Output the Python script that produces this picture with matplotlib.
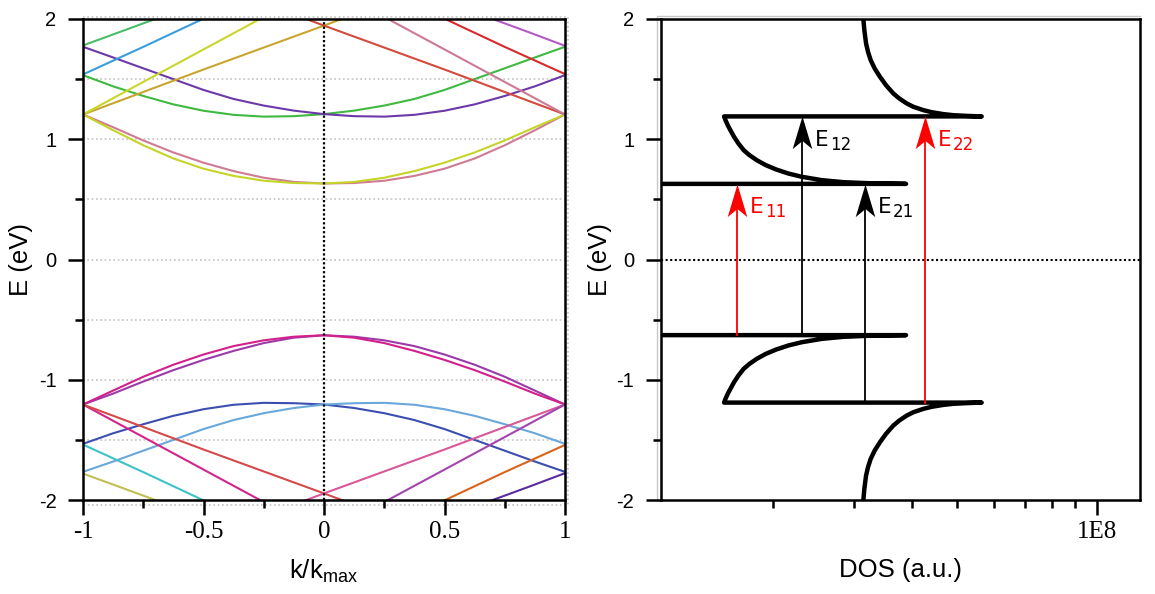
import matplotlib
matplotlib.use("Agg")
import matplotlib.pyplot as plt
from matplotlib.path import Path
from matplotlib.ticker import NullFormatter

plt.rcParams['font.family'] = ['Liberation Sans', 'DejaVu Sans']
plt.rcParams['mathtext.default'] = 'regular'
SERIF = 'Liberation Serif'

# ---------------- band structure (left panel) ----------------
k_grid = [-1.0, -0.875, -0.75, -0.625, -0.5, -0.375, -0.25, -0.125, 0.0,
          0.125, 0.25, 0.375, 0.5, 0.625, 0.75, 0.875, 1.0]

# first conduction pair (eV)
c1_pink = [1.206, 1.100, 0.990, 0.890, 0.805, 0.735, 0.680, 0.645, 0.632,
           0.636, 0.655, 0.695, 0.755, 0.840, 0.950, 1.075, 1.206]
c1_yellow = [1.206, 1.075, 0.950, 0.840, 0.755, 0.695, 0.655, 0.636, 0.632,
             0.645, 0.680, 0.735, 0.805, 0.890, 0.990, 1.100, 1.206]
# second conduction pair
c2_green = [1.533, 1.440, 1.360, 1.290, 1.237, 1.203, 1.188, 1.192, 1.209,
            1.238, 1.280, 1.335, 1.410, 1.500, 1.590, 1.680, 1.769]
c2_purple = [1.769, 1.680, 1.590, 1.500, 1.410, 1.335, 1.280, 1.238, 1.209,
             1.192, 1.188, 1.203, 1.237, 1.290, 1.360, 1.440, 1.533]
# first valence pair
v1_magenta = [-1.206, -1.090, -0.975, -0.875, -0.790, -0.720, -0.672, -0.642, -0.630,
              -0.650, -0.695, -0.760, -0.835, -0.920, -1.015, -1.115, -1.206]
v1_purple = [-1.206, -1.115, -1.015, -0.920, -0.835, -0.760, -0.695, -0.650, -0.630,
             -0.642, -0.672, -0.720, -0.790, -0.875, -0.975, -1.090, -1.206]
# second valence pair
v2_darkblue = [-1.533, -1.445, -1.370, -1.300, -1.245, -1.208, -1.192, -1.195, -1.206,
               -1.235, -1.278, -1.335, -1.410, -1.500, -1.590, -1.680, -1.766]
v2_lightblue = [-1.766, -1.680, -1.590, -1.500, -1.410, -1.335, -1.278, -1.235, -1.206,
                -1.195, -1.192, -1.208, -1.245, -1.300, -1.370, -1.445, -1.533]

# steep bands leaving the window (k, E)
olive_k, olive_e = [-1.0, -0.5, 0.0, 0.1], [1.206, 1.580, 1.945, 2.02]
red_k, red_e = [-0.1, 0.0, 0.5, 1.0], [2.02, 1.945, 1.580, 1.206]
yelup_k, yelup_e = [-1.0, -0.5, -0.25], [1.206, 1.747, 2.017]
mauve_k, mauve_e = [0.25, 0.5, 1.0], [2.017, 1.747, 1.206]
blue_k, blue_e = [-1.0, -0.75, -0.45], [1.539, 1.768, 2.05]
bred_k, bred_e = [0.45, 0.75, 1.0], [2.05, 1.768, 1.542]
gtop_k, gtop_e = [-1.0, -0.85, -0.65], [1.780, 1.890, 2.037]
violet_k, violet_e = [0.65, 0.85, 1.0], [2.037, 1.890, 1.777]

cyan_k, cyan_e = [-1.0, -0.75, -0.45], [-1.539, -1.768, -2.05]
vol_k, vol_e = [-1.0, -0.85, -0.65], [-1.780, -1.890, -2.037]
vmag_k, vmag_e = [-1.0, -0.5, -0.25], [-1.206, -1.747, -2.017]
vred_k, vred_e = [-1.0, -0.5, 0.0, 0.1], [-1.206, -1.580, -1.945, -2.02]
vpink_k, vpink_e = [-0.1, 0.0, 0.5, 1.0], [-2.02, -1.945, -1.580, -1.206]
vpur_k, vpur_e = [0.25, 0.5, 1.0], [-2.017, -1.747, -1.206]
orange_k, orange_e = [0.45, 0.75, 1.0], [-2.05, -1.768, -1.542]
indigo_k, indigo_e = [0.65, 0.85, 1.0], [-2.037, -1.890, -1.777]

k_ticks = [-1, -0.5, 0, 0.5, 1]
k_tick_labels = ['-1', '-0.5', '0', '0.5', '1']
k_minor = [-0.75, -0.25, 0.25, 0.75]
e_ticks = [-2, -1, 0, 1, 2]
e_tick_labels = ['-2', '-1', '0', '1', '2']
e_minor = [-1.5, -0.5, 0.5, 1.5]

# ---------------- density of states (right panel) ----------------
# second valence singularity, from the bottom of the window up to its edge
dos_v2_e = [-1.999, -1.908, -1.797, -1.727, -1.658, -1.589, -1.519, -1.450, -1.381,
            -1.339, -1.298, -1.270, -1.242, -1.225, -1.209, -1.200, -1.195, -1.190]
dos_v2 = [3.137e7, 3.152e7, 3.179e7, 3.210e7, 3.253e7, 3.318e7, 3.407e7, 3.510e7, 3.640e7,
          3.750e7, 3.890e7, 4.021e7, 4.226e7, 4.405e7, 4.668e7, 4.906e7, 5.198e7, 5.647e7]
# first valence singularity, from the second edge up to the gap
dos_v1_e = [-1.190, -1.159, -1.117, -1.076, -1.020, -0.965, -0.909, -0.868, -0.826,
            -0.785, -0.749, -0.715, -0.688, -0.660, -0.643, -0.635, -0.629]
dos_v1 = [1.570e7, 1.581e7, 1.599e7, 1.620e7, 1.650e7, 1.686e7, 1.731e7, 1.781e7, 1.847e7,
          1.931e7, 2.033e7, 2.161e7, 2.309e7, 2.550e7, 2.841e7, 3.190e7, 3.878e7]
# inside the gap the DOS vanishes (placed off the left of the axis)
dos_gap_e = [-0.629, 0.629]
dos_gap = [1.0e6, 1.0e6]
# first conduction singularity
dos_c1_e = [0.629, 0.635, 0.643, 0.660, 0.688, 0.715, 0.749, 0.785, 0.826,
            0.868, 0.909, 0.965, 1.020, 1.076, 1.117, 1.159, 1.190]
dos_c1 = [3.878e7, 3.190e7, 2.841e7, 2.550e7, 2.309e7, 2.161e7, 2.033e7, 1.931e7, 1.847e7,
          1.781e7, 1.731e7, 1.686e7, 1.650e7, 1.620e7, 1.599e7, 1.581e7, 1.570e7]
# second conduction singularity
dos_c2_e = [1.190, 1.195, 1.200, 1.209, 1.225, 1.242, 1.270, 1.298, 1.339,
            1.381, 1.450, 1.519, 1.589, 1.658, 1.727, 1.797, 1.908, 1.999]
dos_c2 = [5.647e7, 5.198e7, 4.906e7, 4.668e7, 4.405e7, 4.226e7, 4.021e7, 3.890e7, 3.750e7,
          3.640e7, 3.510e7, 3.407e7, 3.318e7, 3.253e7, 3.210e7, 3.179e7, 3.152e7, 3.137e7]
dos_xlim = (1.146e7, 1.24e8)

# optical transitions between van Hove singularities
trans_names = ['11', '12', '21', '22']
trans_dos = [1.677e7, 2.316e7, 3.168e7, 4.27e7]
trans_from = [-0.629, -0.629, -1.19, -1.19]
trans_to = [0.629, 1.19, 0.629, 1.19]
trans_colors = ['#ff0000', '#000000', '#000000', '#ff0000']

# ---------------- figure ----------------
W, H = 1155, 594
fig = plt.figure(figsize=(W / 100, H / 100), dpi=100)
axL = fig.add_axes([83 / W, 94 / H, 482 / W, 481 / H])
axR = fig.add_axes([660.7 / W, 94 / H, 479.3 / W, 481 / H])

# left panel
grid_kw = dict(color='#c4c4c4', lw=1.2, ls=(0, (1, 1.6)), clip_on=False, zorder=0)
ytr = axL.get_yaxis_transform()
for y in e_minor + [-1, 0, 1]:
    axL.plot([0, 1.006], [y, y], transform=ytr, **grid_kw)
axL.plot([0, 1.006, 1.006, 0], [1.005, 1.005, -0.011, -0.011],
         transform=axL.transAxes, **grid_kw)

bands = [
    (k_grid, c1_pink, '#cf7b94'), (k_grid, c1_yellow, '#c5d528'),
    (k_grid, c2_green, '#3fb940'), (k_grid, c2_purple, '#6c3aa8'),
    (k_grid, v1_purple, '#9c3aa8'), (k_grid, v1_magenta, '#d4208a'),
    (k_grid, v2_darkblue, '#3c4fb0'), (k_grid, v2_lightblue, '#6aa7da'),
    (olive_k, olive_e, '#c9a52e'), (red_k, red_e, '#d44a3c'),
    (yelup_k, yelup_e, '#c8d62a'), (mauve_k, mauve_e, '#cc7a94'),
    (blue_k, blue_e, '#3a9edc'), (bred_k, bred_e, '#d82a2a'),
    (gtop_k, gtop_e, '#4cbb6a'), (violet_k, violet_e, '#b45ac8'),
    (cyan_k, cyan_e, '#3ec2c8'), (vol_k, vol_e, '#c0c052'),
    (vmag_k, vmag_e, '#d4248c'), (vred_k, vred_e, '#d44a4a'),
    (vpink_k, vpink_e, '#d8589a'), (vpur_k, vpur_e, '#a444b0'),
    (orange_k, orange_e, '#d8641c'), (indigo_k, indigo_e, '#5a2c9c'),
]
for k, e, c in bands:
    axL.plot(k, e, color=c, lw=1.5, zorder=2)
axL.axvline(0, color='k', lw=1.6, ls=(0, (1, 1)), zorder=3)

axL.set_xlim(-1, 1)
axL.set_ylim(-2, 2)
axL.set_xticks(k_ticks, labels=k_tick_labels, fontfamily=SERIF, fontsize=18)
axL.set_xticks(k_minor, minor=True)
axL.set_yticks(e_ticks, labels=e_tick_labels, fontsize=14.5)
axL.set_yticks(e_minor, minor=True)

# right panel
axR.axhline(0, color='k', lw=1.5, ls=(0, (1, 1.2)), zorder=1)
dos_energy = dos_v2_e + dos_v1_e + dos_gap_e + dos_c1_e + dos_c2_e
dos_value = dos_v2 + dos_v1 + dos_gap + dos_c1 + dos_c2
axR.plot(dos_value, dos_energy, color='k', lw=3.2, zorder=3)

head = Path([(0, 0), (-0.3, -1), (0, -0.75), (0.3, -1), (0, 0)],
            [Path.MOVETO, Path.LINETO, Path.LINETO, Path.LINETO, Path.CLOSEPOLY])
for name, x, e0, e1, c in zip(trans_names, trans_dos, trans_from, trans_to, trans_colors):
    axR.plot([x, x], [e0, e1 - 0.1], color=c, lw=1.3, zorder=4)
    axR.plot([x], [e1], marker=head, ms=47, color=c, mew=0, zorder=5)
    axR.annotate('E', xy=(x, e1), xytext=(9, -21), textcoords='offset points',
                 ha='left', va='baseline', fontsize=15.5, color=c, fontfamily='DejaVu Sans')
    axR.annotate(name, xy=(x, e1), xytext=(20, -24), textcoords='offset points',
                 ha='left', va='baseline', fontsize=12, color=c, fontfamily='DejaVu Sans')

axR.set_xscale('log')
axR.set_xlim(*dos_xlim)
axR.set_ylim(-2, 2)
axR.set_xticks([1e8], labels=['1E8'], fontfamily=SERIF, fontsize=18)
axR.set_xticks([2e7, 3e7, 4e7, 5e7, 6e7, 7e7, 8e7, 9e7], minor=True)
axR.xaxis.set_minor_formatter(NullFormatter())
axR.set_yticks(e_ticks, labels=e_tick_labels, fontsize=14.5)
axR.set_yticks(e_minor, minor=True)
axR.plot([-0.008, -0.008, 1.0], [0, 1.006, 1.006], transform=axR.transAxes,
         color='#c8c8c8', lw=1.0, clip_on=False, zorder=0)

for ax in (axL, axR):
    for sp in ax.spines.values():
        sp.set_linewidth(1.8)
    ax.tick_params(which='major', direction='out', length=11, width=1.8, top=False, right=False)
    ax.tick_params(which='minor', direction='out', length=6, width=1.8, top=False, right=False)
    ax.tick_params(axis='y', pad=8)
    ax.tick_params(axis='x', pad=4)

axL.set_ylabel('E (eV)', fontsize=18.5)
axL.yaxis.set_label_coords(-0.104, 0.5)
axR.set_ylabel('E (eV)', fontsize=18.5)
axR.yaxis.set_label_coords(-0.102, 0.5)
axL.set_xlabel(r'k/k$_{max}$', fontsize=18.5)
axL.xaxis.set_label_coords(0.5, -0.12)
axR.set_xlabel('DOS (a.u.)', fontsize=18.5)
axR.xaxis.set_label_coords(0.5, -0.12)

fig.savefig('out.png', dpi=100)
